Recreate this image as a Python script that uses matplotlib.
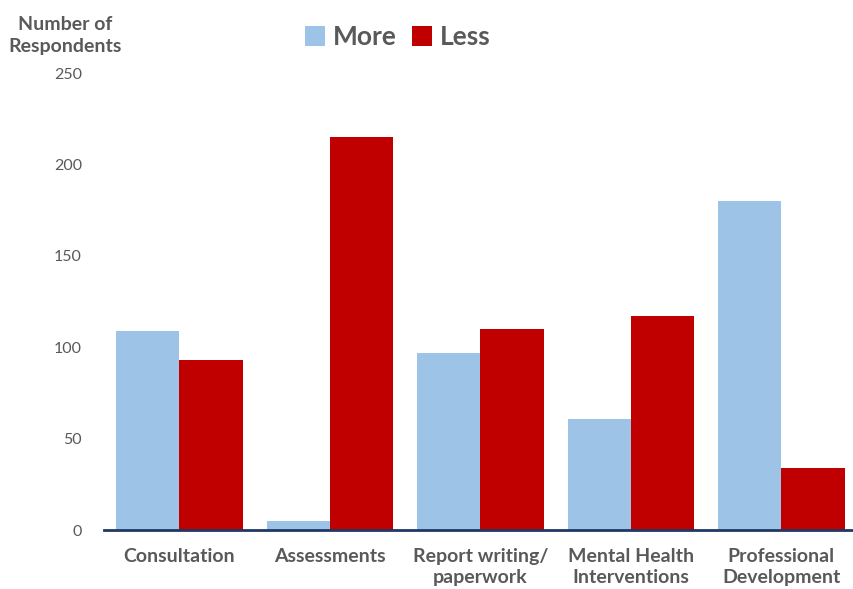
import numpy as np
import matplotlib.pyplot as plt

categories = ['Consultation', 'Assessments', 'Report writing/\npaperwork',
              'Mental Health\nInterventions', 'Professional\nDevelopment']
more = [109, 5, 97, 61, 180]
less = [93, 215, 110, 117, 34]

plt.rcParams['font.family'] = ['Lato', 'DejaVu Sans']
grey = '#595959'

fig = plt.figure(figsize=(8.54, 5.89), dpi=100)
ax = fig.add_axes([0.122, 0.100, 0.881, 0.776])

x = np.arange(len(categories))
w = 0.42
ax.bar(x - w / 2, more, w, color='#9DC3E6', label='More')
ax.bar(x + w / 2, less, w, color='#C00000', label='Less')

ax.set_xlim(-0.5, len(categories) - 0.5)
ax.set_ylim(0, 250)
ax.set_yticks(range(0, 251, 50))
ax.set_xticks(x)
ax.set_xticklabels(categories, fontsize=14, fontweight='bold', color=grey,
                   linespacing=1.3)
ax.tick_params(axis='y', labelsize=11.5, labelcolor=grey, length=0, pad=16)
ax.tick_params(axis='x', length=0, pad=13)

for s in ['top', 'right', 'left']:
    ax.spines[s].set_visible(False)
ax.spines['bottom'].set_color('#1F3864')
ax.spines['bottom'].set_linewidth(2)

fig.text(0.076, 0.94, 'Number of\nRespondents', ha='center', va='center',
         fontsize=14, fontweight='bold', color=grey, linespacing=1.35)

leg = ax.legend(loc='center', bbox_to_anchor=(0.466, 0.937), bbox_transform=fig.transFigure,
                ncol=2, frameon=False, handlelength=0.75, handleheight=0.75,
                handletextpad=0.3, columnspacing=0.6,
                prop={'size': 19, 'weight': 'bold'})
for t in leg.get_texts():
    t.set_color(grey)

fig.savefig('out.png', dpi=100)
